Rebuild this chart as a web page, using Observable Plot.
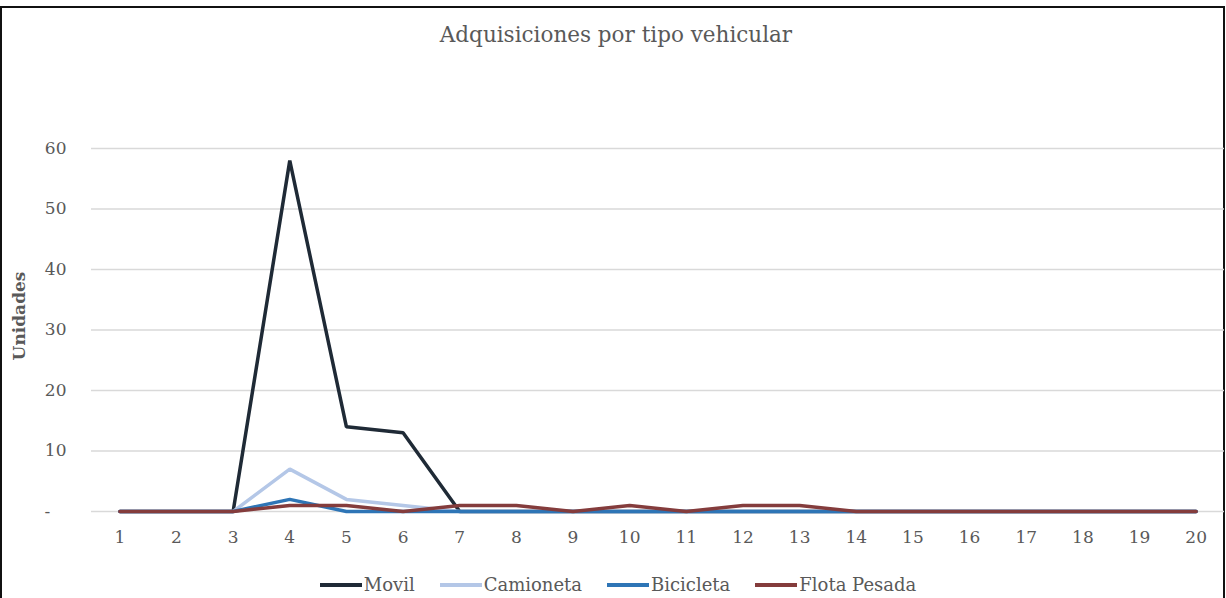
<!DOCTYPE html>
<html><head><meta charset="utf-8">
<script src="https://cdn.jsdelivr.net/npm/d3@7"></script>
<script src="https://cdn.jsdelivr.net/npm/@observablehq/plot@0.6"></script>
<style>
body{margin:0;background:#fff;width:1226px;height:598px;overflow:hidden;position:relative;font-family:"DejaVu Serif",serif;color:#595959}
#frame{position:absolute;left:0;top:6px;width:1221px;height:600px;border:2px solid #111;border-bottom:none;box-sizing:content-box}
#title{position:absolute;top:22px;left:0;width:1226px;text-align:center;font-size:21.5px;line-height:26px;padding-left:6px;box-sizing:border-box}
#chart{position:absolute;left:0;top:100px}
#legend{position:absolute;top:573px;left:0;width:1226px;display:flex;justify-content:center;gap:25px;font-size:18px;line-height:24px;padding-left:10px;box-sizing:border-box}
.item{display:flex;align-items:center}
.sw{width:42px;height:3.5px;margin-right:2px}
</style></head>
<body>
<div id="frame"></div>
<div id="title">Adquisiciones por tipo vehicular</div>
<div id="chart"></div>
<div id="legend"></div>
<script>
const periods = [1,2,3,4,5,6,7,8,9,10,11,12,13,14,15,16,17,18,19,20];
const seriesNames = ["Movil","Camioneta","Bicicleta","Flota Pesada"];
const seriesColors = ["#1f2a36","#b4c7e7","#2e75b6","#843c3c"];
const movil =     [0,0,0,58,14,13,0,0,0,0,0,0,0,0,0,0,0,0,0,0];
const camioneta = [0,0,0,7,2,1,0,0,0,0,0,0,0,0,0,0,0,0,0,0];
const bicicleta = [0,0,0,2,0,0,0,0,0,0,0,0,0,0,0,0,0,0,0,0];
const flota =     [0,0,0,1,1,0,1,1,0,1,0,1,1,0,0,0,0,0,0,0];
const yTicks = [0,10,20,30,40,50,60];
const yLabel = "Unidades";

const valuesBySeries = [movil, camioneta, bicicleta, flota];
const data = [];
seriesNames.forEach((s, i) => periods.forEach((p, j) => data.push({series: s, period: p, value: valuesBySeries[i][j]})));

const chart = Plot.plot({
  width: 1226, height: 460,
  marginLeft: 91, marginRight: 2, marginTop: 48, marginBottom: 49,
  x: {domain: [0.5, 20.5]},
  y: {domain: [0, 60]},
  color: {domain: seriesNames, range: seriesColors},
  style: {fontFamily: '"DejaVu Serif",serif', fontSize: "17px", color: "#595959", background: "transparent"},
  marks: [
    Plot.gridY(yTicks, {stroke: "#d9d9d9", strokeOpacity: 1, strokeWidth: 1.5}),
    Plot.axisY({ticks: yTicks, tickSize: 0, tickPadding: 25, tickFormat: d => d === 0 ? "-\u00a0\u00a0\u00a0" : String(d), label: null}),
    Plot.axisX({ticks: periods, tickSize: 0, tickPadding: 19, tickFormat: d => String(d), label: null}),
    Plot.text([yLabel], {frameAnchor: "left", textAnchor: "middle", dx: -72, dy: -14, rotate: -90, fontWeight: "bold", fill: "#595959", fontSize: 17}),
    Plot.lineY(data, {x: "period", y: "value", z: "series", stroke: "series", strokeWidth: 3.5, strokeLinejoin: "miter"})
  ]
});
document.getElementById("chart").appendChild(chart);

const legend = document.getElementById("legend");
seriesNames.forEach((s, i) => {
  const it = document.createElement("div"); it.className = "item";
  const sw = document.createElement("span"); sw.className = "sw"; sw.style.background = seriesColors[i];
  const t = document.createElement("span"); t.textContent = s;
  it.appendChild(sw); it.appendChild(t); legend.appendChild(it);
});
</script>
</body></html>
